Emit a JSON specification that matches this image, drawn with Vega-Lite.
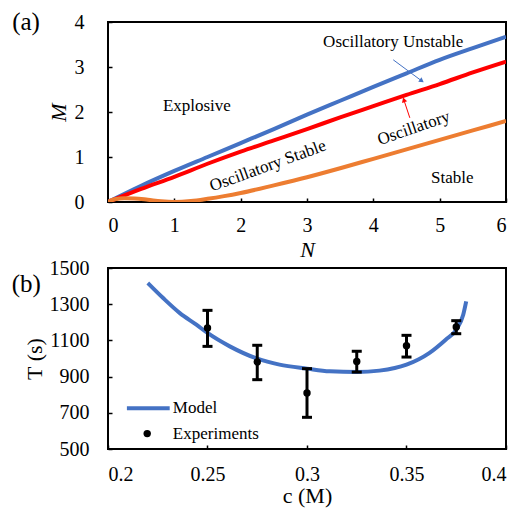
{
  "$schema": "https://vega.github.io/schema/vega-lite/v6.json",
  "background": "white",
  "padding": {"left": 10, "top": 9, "right": 8, "bottom": 1},
  "spacing": 66,
  "bounds": "flush",
  "config": {
    "view": {"stroke": "black", "strokeWidth": 2},
    "font": "Liberation Serif",
    "axis": {
      "grid": false,
      "domain": false,
      "tickSize": -4,
      "tickColor": "black",
      "tickWidth": 1.5,
      "labelFont": "Liberation Serif",
      "labelFontSize": 20,
      "labelColor": "black",
      "titleFont": "Liberation Serif",
      "titleFontSize": 22,
      "titleFontWeight": "normal",
      "titleColor": "black"
    },
    "text": {"font": "Liberation Serif", "fontSize": 17, "color": "black"}
  },
  "datasets": {
    "phase": [
      {"N": 0, "M": 0, "curve": "upper"},
      {"N": 0.5, "M": 0.36, "curve": "upper"},
      {"N": 1, "M": 0.69, "curve": "upper"},
      {"N": 1.5, "M": 1.0, "curve": "upper"},
      {"N": 2, "M": 1.31, "curve": "upper"},
      {"N": 2.5, "M": 1.62, "curve": "upper"},
      {"N": 3, "M": 1.94, "curve": "upper"},
      {"N": 3.5, "M": 2.25, "curve": "upper"},
      {"N": 4, "M": 2.56, "curve": "upper"},
      {"N": 4.5, "M": 2.86, "curve": "upper"},
      {"N": 5, "M": 3.16, "curve": "upper"},
      {"N": 5.5, "M": 3.42, "curve": "upper"},
      {"N": 6, "M": 3.67, "curve": "upper"},
      {"N": 0, "M": 0, "curve": "middle"},
      {"N": 0.5, "M": 0.29, "curve": "middle"},
      {"N": 1, "M": 0.56, "curve": "middle"},
      {"N": 1.5, "M": 0.85, "curve": "middle"},
      {"N": 2, "M": 1.12, "curve": "middle"},
      {"N": 2.5, "M": 1.37, "curve": "middle"},
      {"N": 3, "M": 1.62, "curve": "middle"},
      {"N": 3.5, "M": 1.88, "curve": "middle"},
      {"N": 4, "M": 2.13, "curve": "middle"},
      {"N": 4.5, "M": 2.38, "curve": "middle"},
      {"N": 5, "M": 2.62, "curve": "middle"},
      {"N": 5.5, "M": 2.88, "curve": "middle"},
      {"N": 6, "M": 3.12, "curve": "middle"},
      {"N": 0, "M": 0, "curve": "lower"},
      {"N": 0.1, "M": 0.06, "curve": "lower"},
      {"N": 0.25, "M": 0.085, "curve": "lower"},
      {"N": 0.4, "M": 0.08, "curve": "lower"},
      {"N": 0.6, "M": 0.05, "curve": "lower"},
      {"N": 0.8, "M": 0.015, "curve": "lower"},
      {"N": 1.0, "M": 0.0, "curve": "lower"},
      {"N": 1.25, "M": 0.02, "curve": "lower"},
      {"N": 1.5, "M": 0.07, "curve": "lower"},
      {"N": 1.75, "M": 0.13, "curve": "lower"},
      {"N": 2, "M": 0.2, "curve": "lower"},
      {"N": 2.5, "M": 0.37, "curve": "lower"},
      {"N": 3, "M": 0.55, "curve": "lower"},
      {"N": 3.5, "M": 0.75, "curve": "lower"},
      {"N": 4, "M": 0.96, "curve": "lower"},
      {"N": 4.5, "M": 1.17, "curve": "lower"},
      {"N": 5, "M": 1.38, "curve": "lower"},
      {"N": 5.5, "M": 1.59, "curve": "lower"},
      {"N": 6, "M": 1.8, "curve": "lower"}
    ],
    "annotA": [
      {"N": 4.3, "M": 3.56, "label": "Oscillatory Unstable"},
      {"N": 1.34, "M": 2.13, "label": "Explosive"},
      {"N": 5.19, "M": 0.53, "label": "Stable"},
      {"N": 2.41, "M": 0.8, "label": "Oscillatory Stable"},
      {"N": 4.61, "M": 1.64, "label": "Oscillatory"},
      {"N": -1.236, "M": 4.0, "label": "(a)"}
    ],
    "arrows": [
      {"N": 4.3, "M": 3.16, "N2": 4.73, "M2": 2.69, "arrow": "blue"},
      {"N": 4.55, "M": 1.87, "N2": 4.46, "M2": 2.27, "arrow": "red"}
    ],
    "model": [
      {"c": 0.22, "T": 1417},
      {"c": 0.2277, "T": 1334},
      {"c": 0.2361, "T": 1251},
      {"c": 0.2444, "T": 1187},
      {"c": 0.25, "T": 1141},
      {"c": 0.2612, "T": 1067},
      {"c": 0.275, "T": 999},
      {"c": 0.2862, "T": 966},
      {"c": 0.3, "T": 944},
      {"c": 0.3114, "T": 929},
      {"c": 0.325, "T": 925},
      {"c": 0.3364, "T": 933},
      {"c": 0.35, "T": 966},
      {"c": 0.3614, "T": 1030},
      {"c": 0.3697, "T": 1104},
      {"c": 0.375, "T": 1159},
      {"c": 0.3785, "T": 1242},
      {"c": 0.38, "T": 1316}
    ],
    "experiments": [
      {"c": 0.25, "T": 1169, "lo": 1067, "hi": 1266},
      {"c": 0.275, "T": 981, "lo": 883, "hi": 1073},
      {"c": 0.3, "T": 809, "lo": 675, "hi": 944},
      {"c": 0.325, "T": 984, "lo": 925, "hi": 1040},
      {"c": 0.35, "T": 1071, "lo": 1008, "hi": 1128},
      {"c": 0.375, "T": 1174, "lo": 1137, "hi": 1209}
    ],
    "legendLine": [
      {"c": 0.2095, "T": 725},
      {"c": 0.231, "T": 725}
    ],
    "legendText": [
      {"c": 0.2326, "T": 725, "label": "Model"},
      {"c": 0.2326, "T": 585, "label": "Experiments"},
      {"c": 0.1589, "T": 1412, "label": "(b)"}
    ],
    "legendDot": [
      {"c": 0.2197, "T": 585}
    ]
  },
  "vconcat": [
    {
      "width": 398,
      "height": 180,
      "layer": [
        {
          "data": {"name": "phase"},
          "mark": {"type": "line", "strokeWidth": 4, "clip": true, "interpolate": "monotone"},
          "encoding": {
            "x": {"field": "N", "type": "quantitative", "scale": {"domain": [0, 6], "nice": false},
                  "axis": {"values": [0, 1, 2, 3, 4, 5, 6], "tickCount": 12, "format": "d", "title": "N", "titleFontStyle": "italic", "labelPadding": 17, "titlePadding": 4}},
            "y": {"field": "M", "type": "quantitative", "scale": {"domain": [0, 4], "nice": false},
                  "axis": {"values": [0, 1, 2, 3, 4], "tickCount": 10, "format": "d", "title": "M", "titleFontStyle": "italic", "labelPadding": 28, "titlePadding": 4}},
            "color": {"field": "curve", "type": "nominal", "legend": null,
                      "scale": {"domain": ["upper", "middle", "lower"], "range": ["#4472C4", "#FF0000", "#ED7D31"]}},
            "order": {"field": "N", "type": "quantitative"}
          }
        },
        {
          "data": {"name": "arrows"},
          "mark": {"type": "rule", "strokeWidth": 1},
          "encoding": {
            "x": {"field": "N", "type": "quantitative"},
            "y": {"field": "M", "type": "quantitative"},
            "x2": {"field": "N2"},
            "y2": {"field": "M2"},
            "color": {"field": "arrow", "type": "nominal", "legend": null,
                      "scale": {"domain": ["blue", "red"], "range": ["#4472C4", "#FF0000"]}}
          }
        },
        {
          "data": {"name": "arrows"},
          "transform": [{"filter": "datum.arrow === 'blue'"}],
          "mark": {"type": "point", "shape": "triangle-up", "filled": true, "size": 30, "angle": 126, "color": "#4472C4", "opacity": 1},
          "encoding": {
            "x": {"field": "N2", "type": "quantitative"},
            "y": {"field": "M2", "type": "quantitative"}
          }
        },
        {
          "data": {"name": "arrows"},
          "transform": [{"filter": "datum.arrow === 'red'"}],
          "mark": {"type": "point", "shape": "triangle-up", "filled": true, "size": 30, "angle": 342, "color": "#FF0000", "opacity": 1},
          "encoding": {
            "x": {"field": "N2", "type": "quantitative"},
            "y": {"field": "M2", "type": "quantitative"}
          }
        },
        {
          "data": {"name": "annotA"},
          "transform": [{"filter": "indexof(['Oscillatory Unstable', 'Explosive', 'Stable'], datum.label) >= 0"}],
          "mark": {"type": "text", "fontSize": 17},
          "encoding": {
            "x": {"field": "N", "type": "quantitative"},
            "y": {"field": "M", "type": "quantitative"},
            "text": {"field": "label"}
          }
        },
        {
          "data": {"name": "annotA"},
          "transform": [{"filter": "datum.label === 'Oscillatory Stable'"}],
          "mark": {"type": "text", "fontSize": 17, "angle": 340},
          "encoding": {
            "x": {"field": "N", "type": "quantitative"},
            "y": {"field": "M", "type": "quantitative"},
            "text": {"field": "label"}
          }
        },
        {
          "data": {"name": "annotA"},
          "transform": [{"filter": "datum.label === 'Oscillatory'"}],
          "mark": {"type": "text", "fontSize": 17, "angle": 341},
          "encoding": {
            "x": {"field": "N", "type": "quantitative"},
            "y": {"field": "M", "type": "quantitative"},
            "text": {"field": "label"}
          }
        },
        {
          "data": {"name": "annotA"},
          "transform": [{"filter": "datum.label === '(a)'"}],
          "mark": {"type": "text", "fontSize": 25},
          "encoding": {
            "x": {"field": "N", "type": "quantitative"},
            "y": {"field": "M", "type": "quantitative"},
            "text": {"field": "label"}
          }
        }
      ]
    },
    {
      "width": 398,
      "height": 181,
      "layer": [
        {
          "data": {"name": "model"},
          "mark": {"type": "line", "strokeWidth": 4, "color": "#4472C4", "interpolate": "monotone"},
          "encoding": {
            "x": {"field": "c", "type": "quantitative", "scale": {"domain": [0.2, 0.4], "nice": false},
                  "axis": {"values": [0.2, 0.25, 0.3, 0.35, 0.4], "tickCount": 10, "format": "~g", "title": "c (M)", "labelPadding": 19, "titlePadding": 1}},
            "y": {"field": "T", "type": "quantitative", "scale": {"domain": [500, 1500], "nice": false},
                  "axis": {"values": [500, 700, 900, 1100, 1300, 1500], "tickCount": 12, "format": "d", "labelOverlap": false, "title": "T (s)", "labelPadding": 23, "titlePadding": 3}},
            "order": {"field": "c", "type": "quantitative"}
          }
        },
        {
          "data": {"name": "experiments"},
          "mark": {"type": "rule", "strokeWidth": 3, "color": "black"},
          "encoding": {
            "x": {"field": "c", "type": "quantitative"},
            "y": {"field": "lo", "type": "quantitative"},
            "y2": {"field": "hi"}
          }
        },
        {
          "data": {"name": "experiments"},
          "mark": {"type": "tick", "orient": "horizontal", "size": 10, "thickness": 3, "color": "black", "opacity": 1},
          "encoding": {
            "x": {"field": "c", "type": "quantitative"},
            "y": {"field": "lo", "type": "quantitative"}
          }
        },
        {
          "data": {"name": "experiments"},
          "mark": {"type": "tick", "orient": "horizontal", "size": 10, "thickness": 3, "color": "black", "opacity": 1},
          "encoding": {
            "x": {"field": "c", "type": "quantitative"},
            "y": {"field": "hi", "type": "quantitative"}
          }
        },
        {
          "data": {"name": "experiments"},
          "mark": {"type": "circle", "size": 55, "color": "black", "opacity": 1},
          "encoding": {
            "x": {"field": "c", "type": "quantitative"},
            "y": {"field": "T", "type": "quantitative"}
          }
        },
        {
          "data": {"name": "legendLine"},
          "mark": {"type": "line", "strokeWidth": 4, "color": "#4472C4"},
          "encoding": {
            "x": {"field": "c", "type": "quantitative"},
            "y": {"field": "T", "type": "quantitative"}
          }
        },
        {
          "data": {"name": "legendDot"},
          "mark": {"type": "circle", "size": 55, "color": "black", "opacity": 1},
          "encoding": {
            "x": {"field": "c", "type": "quantitative"},
            "y": {"field": "T", "type": "quantitative"}
          }
        },
        {
          "data": {"name": "legendText"},
          "transform": [{"filter": "datum.label !== '(b)'"}],
          "mark": {"type": "text", "fontSize": 17, "align": "left"},
          "encoding": {
            "x": {"field": "c", "type": "quantitative"},
            "y": {"field": "T", "type": "quantitative"},
            "text": {"field": "label"}
          }
        },
        {
          "data": {"name": "legendText"},
          "transform": [{"filter": "datum.label === '(b)'"}],
          "mark": {"type": "text", "fontSize": 25},
          "encoding": {
            "x": {"field": "c", "type": "quantitative"},
            "y": {"field": "T", "type": "quantitative"},
            "text": {"field": "label"}
          }
        }
      ]
    }
  ]
}
